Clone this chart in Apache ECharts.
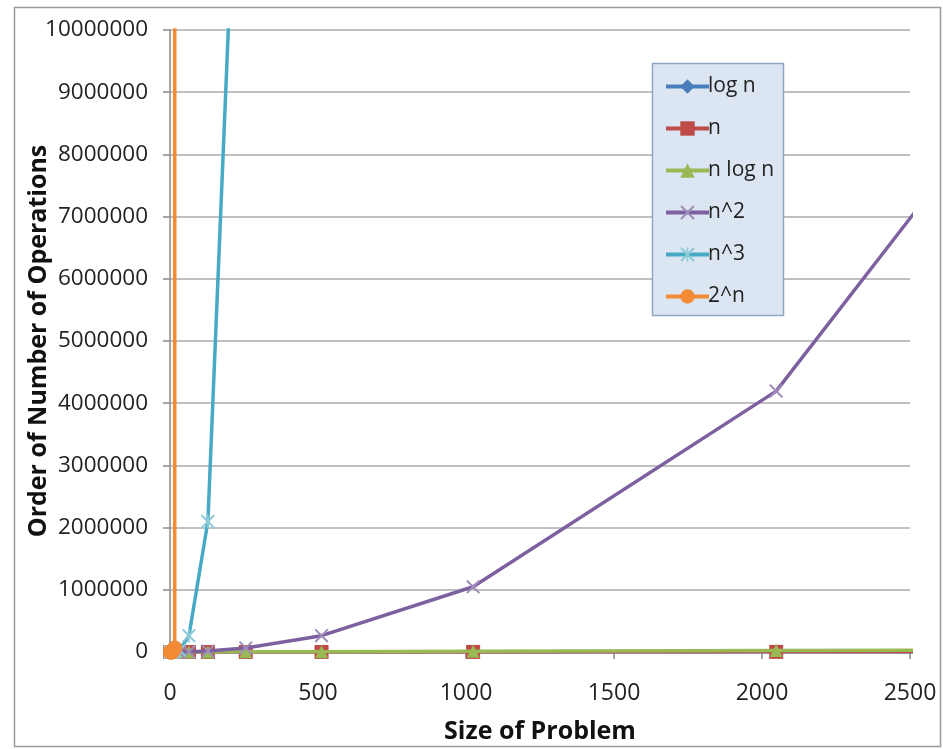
<!DOCTYPE html>
<html>
<head>
<meta charset="utf-8">
<script src="https://cdn.jsdelivr.net/npm/echarts@6/dist/echarts.min.js"></script>
<style>
html,body{margin:0;padding:0;background:#fff;}
#chart{width:943px;height:749px;}
</style>
</head>
<body>
<div id="chart"></div>
<script>
// Problem sizes
const sizes = [1, 2, 4, 8, 16, 32, 64, 128, 256, 512, 1024, 2048, 4096];
// Series values per size
const logN  = [0, 1, 2, 3, 4, 5, 6, 7, 8, 9, 10, 11, 12];
const linN  = [1, 2, 4, 8, 16, 32, 64, 128, 256, 512, 1024, 2048, 4096];
const nLogN = [0, 2, 8, 24, 64, 160, 384, 896, 2048, 4608, 10240, 22528, 49152];
const nSq   = [1, 4, 16, 64, 256, 1024, 4096, 16384, 65536, 262144, 1048576, 4194304, 16777216];
const nCube = [1, 8, 64, 512, 4096, 32768, 262144, 2097152, 16777216, 134217728, 1073741824, 8589934592, 68719476736];
const pow2Sizes = [1, 2, 4, 8, 16, 32];
const pow2  = [2, 4, 16, 256, 65536, 4294967296];
const seriesNames = ['log n', 'n', 'n log n', 'n^2', 'n^3', '2^n'];
const xTicks = [0, 500, 1000, 1500, 2000, 2500];
const yTicks = [0, 1000000, 2000000, 3000000, 4000000, 5000000, 6000000, 7000000, 8000000, 9000000, 10000000];

const colors = ['#4A7EBB', '#BE4B48', '#98B954', '#7D60A0', '#46AAC5', '#F38A35'];
const crossPath = 'path://M0,1L1,0L10,9L9,10Z M9,0L10,1L1,10L0,9Z';
const starPath = 'path://M0,1L1,0L10,9L9,10Z M9,0L10,1L1,10L0,9Z M4.4,0L5.6,0L5.6,10L4.4,10Z';
const symbols = ['diamond', 'rect', 'triangle', crossPath, starPath, 'circle'];
const symbolSizes = [13, 14, 13, 14, 14, 15];
const symbolColors = ['#4A7EBB', '#BE4B48', '#98B954', '#9F8DB8', '#8CCAD9', '#F38A35'];

function pairs(xs, ys) { return xs.map((x, i) => [x, ys[i]]); }
const dataSets = [
  pairs(sizes, logN), pairs(sizes, linN), pairs(sizes, nLogN),
  pairs(sizes, nSq), pairs(sizes, nCube), pairs(pow2Sizes, pow2)
];

const chart = echarts.init(document.getElementById('chart'));
const font = "'Open Sans', 'Noto Sans', sans-serif";

chart.setOption({
  animation: false,
  grid: { left: 170, right: 33, top: 30, bottom: 97, containLabel: false, outerBoundsMode: 'none' },
  xAxis: {
    type: 'value', min: 0, max: 2500, interval: 500,
    name: 'Size of Problem', nameLocation: 'middle', nameGap: 67, nameMoveOverlap: false,
    nameTextStyle: { fontFamily: font, fontWeight: 'bold', fontSize: 25, color: '#111' },
    axisLine: { show: true, lineStyle: { color: '#8a8a8a', width: 1.5 } },
    axisTick: { show: true, length: 7, inside: false, lineStyle: { color: '#8a8a8a', width: 1.5 } },
    axisLabel: { fontFamily: font, fontSize: 23, color: '#222', margin: 30,
      formatter: v => xTicks.includes(v) ? String(v) : '' },
    splitLine: { show: false }
  },
  yAxis: {
    type: 'value', min: 0, max: 10000000, interval: 1000000,
    name: 'Order of Number of Operations', nameLocation: 'middle', nameGap: 119, nameMoveOverlap: false,
    nameTextStyle: { fontFamily: font, fontWeight: 'bold', fontSize: 25, color: '#111' },
    axisLine: { show: true, lineStyle: { color: '#8a8a8a', width: 1.5 } },
    axisTick: { show: true, length: 7, inside: false, lineStyle: { color: '#8a8a8a', width: 1.5 } },
    axisLabel: { fontFamily: font, fontSize: 22.5, color: '#222', margin: 22,
      formatter: v => yTicks.includes(v) ? String(v) : '' },
    splitLine: { show: true, lineStyle: { color: '#ababab', width: 1.5 } }
  },
  legend: {
    orient: 'vertical', left: 659, top: 71, z: 10,
    data: seriesNames,
    itemWidth: 43, itemHeight: 18, itemGap: 21,
    lineStyle: { width: 4 },
    textStyle: { fontFamily: font, fontSize: 21, color: '#222', padding: [0, 0, 0, -6] },
    backgroundColor: 'transparent'
  },
  graphic: [
    { type: 'rect', z: 6, shape: { x: 652.5, y: 63.5, width: 131, height: 252 },
      style: { fill: '#DCE6F2', stroke: '#8EA6C6', lineWidth: 1.5 } },
    { type: 'rect', z: 0, silent: true, shape: { x: 14.5, y: 7.5, width: 926, height: 739 },
      style: { fill: 'none', stroke: '#9a9a9a', lineWidth: 1.5 } }
  ],
  series: seriesNames.map((name, i) => ({
    name: name,
    type: 'line',
    data: dataSets[i],
    clip: true,
    symbol: symbols[i],
    symbolSize: symbolSizes[i],
    showAllSymbol: true,
    lineStyle: { color: colors[i], width: 3.5 },
    itemStyle: { color: symbolColors[i] },
    z: 2 + i
  }))
});
</script>
</body>
</html>
